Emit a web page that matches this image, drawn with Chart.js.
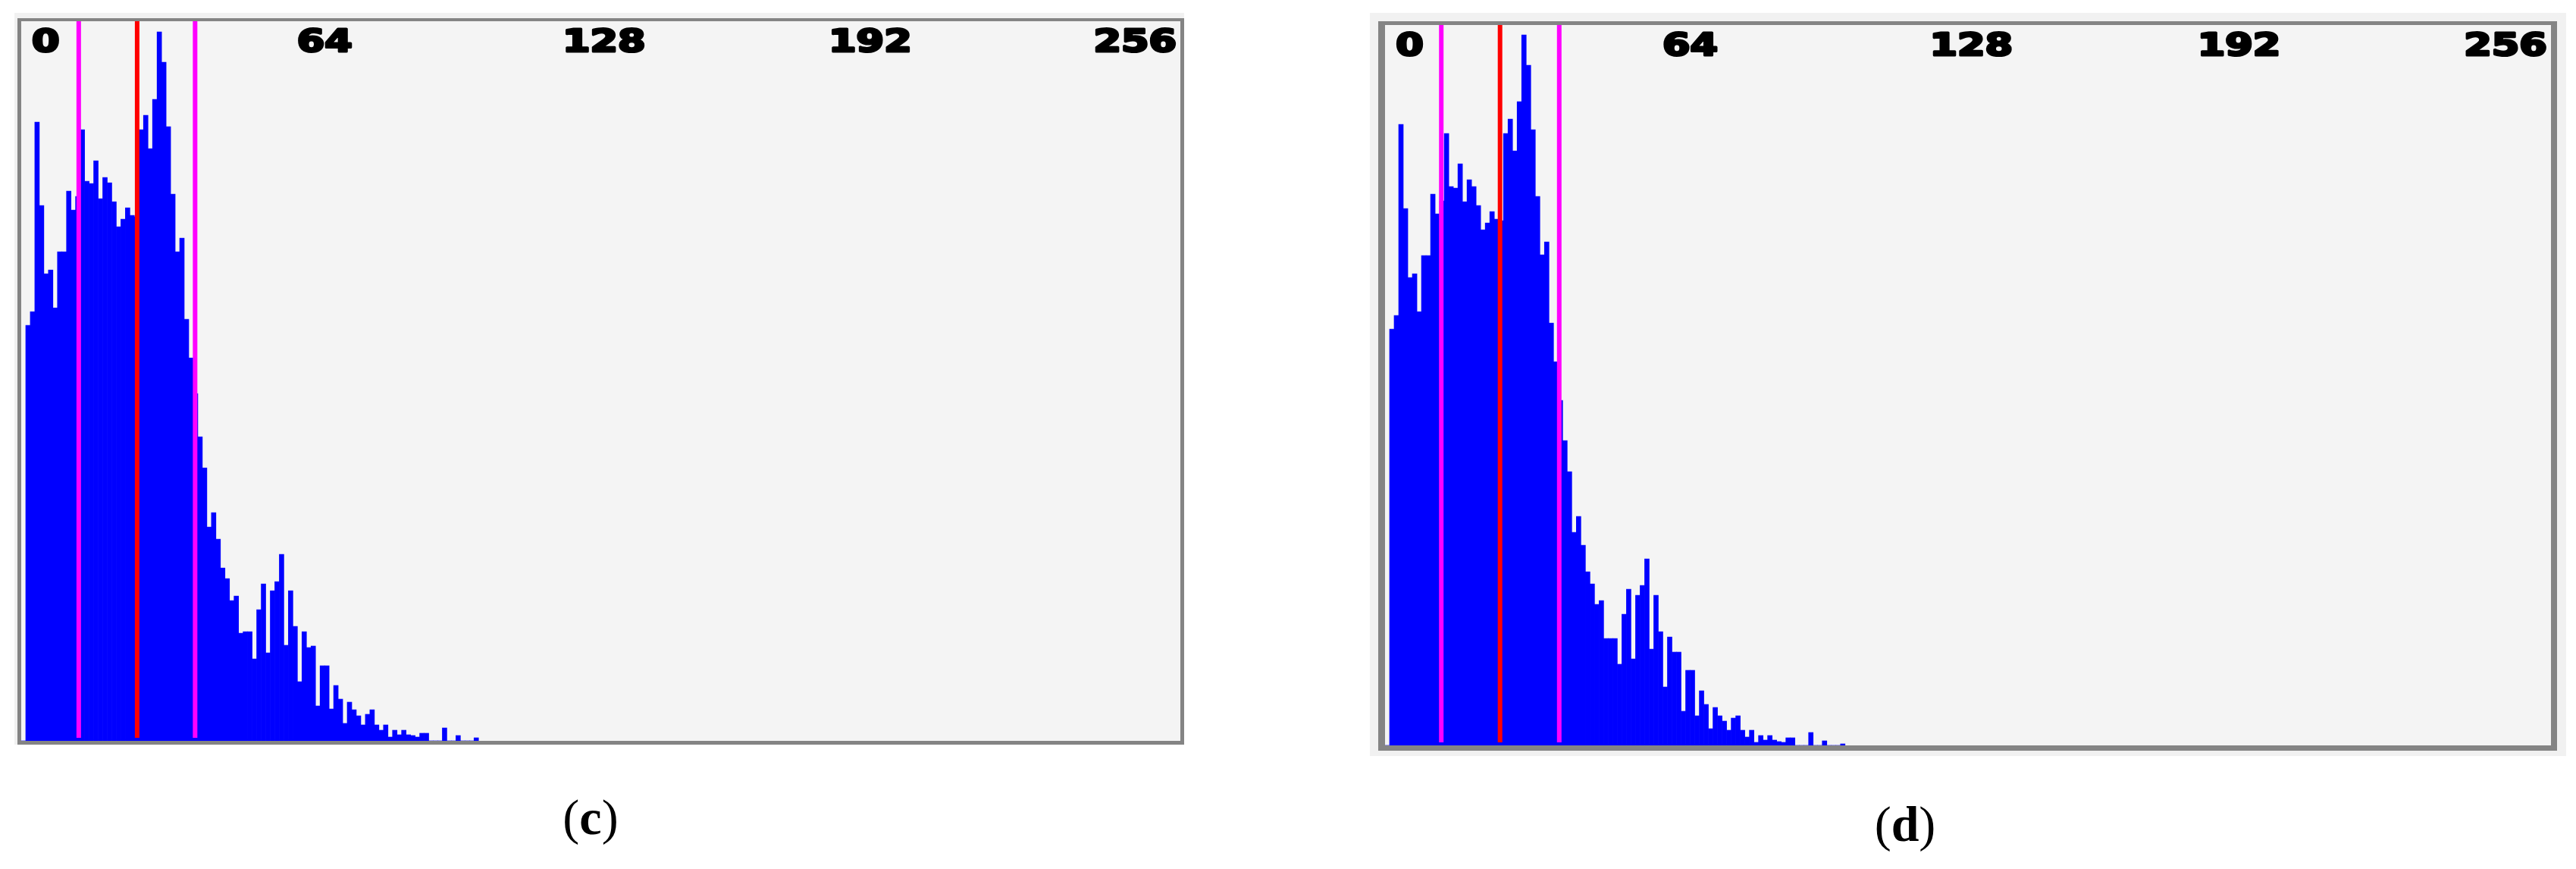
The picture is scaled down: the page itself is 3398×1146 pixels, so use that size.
<!doctype html>
<html lang="en">
<head>
<meta charset="utf-8">
<title>Grey-level histograms (c) and (d)</title>
<style>
  * { margin: 0; padding: 0; }
  body { width: 3398px; height: 1146px; background: #fff; position: relative; overflow: hidden; }
  .band { position: absolute; background: #f1f1f1; }
  .frame { position: absolute; border-style: solid; border-color: #848484; box-sizing: border-box; }
  .plot { position: absolute; background: #f4f4f4; }
  .caption {
    position: absolute;
    font-family: "Liberation Serif", serif;
    font-size: 66px;
    line-height: 66px;
    color: #000;
    transform: translateX(-50%);
    white-space: nowrap;
  }
</style>
</head>
<body>
  <!-- panel (c) -->
  <div class="band" style="left:19px;top:17px;width:1543px;height:965px"></div>
  <div class="frame" style="left:23px;top:24px;width:1539px;height:958px;border-width:4px 5px 5px 5px"></div>
  <div class="plot" style="left:28px;top:28px;width:1529px;height:949px"><canvas id="histC"></canvas></div>
  <div class="caption" style="left:779px;top:1045px">(<b>c</b>)</div>

  <!-- panel (d) -->
  <div class="band" style="left:1807px;top:17px;width:1578px;height:980px"></div>
  <div class="frame" style="left:1818px;top:28px;width:1555px;height:962px;border-width:5px 8px 7px 9px"></div>
  <div class="plot" style="left:1827px;top:33px;width:1538px;height:950px"><canvas id="histD"></canvas></div>
  <div class="caption" style="left:2513px;top:1054px">(<b>d</b>)</div>

<script src="https://cdn.jsdelivr.net/npm/chart.js"></script>
<script>
// grey-level bins 0..100, everything above is empty
const binsC = [
  0, 548, 566, 816, 706, 616, 621, 571, 645, 645,
  725, 700, 718, 806, 738, 735, 765, 715, 743, 736,
  711, 678, 688, 703, 693, 691, 806, 825, 781, 846,
  935, 895, 810, 721, 645, 663, 556, 505, 458, 401,
  360, 282, 301, 266, 228, 214, 185, 191, 142, 144,
  144, 108, 173, 207, 116, 198, 210, 246, 126, 198,
  151, 78, 144, 123, 125, 46, 99, 99, 42, 73,
  55, 23, 51, 41, 33, 21, 35, 41, 21, 14,
  21, 5, 14, 8, 14, 8, 7, 5, 10, 10,
  0, 0, 0, 17, 0, 0, 7, 0, 0, 0,
  4
];
const binsD = [
  0, 549, 567, 819, 708, 617, 622, 572, 646, 646,
  727, 701, 718, 807, 737, 735, 767, 717, 746, 737,
  712, 680, 689, 704, 694, 692, 807, 826, 784, 849,
  937, 897, 812, 724, 647, 664, 557, 506, 455, 402,
  361, 281, 302, 264, 229, 213, 186, 191, 141, 141,
  141, 107, 173, 206, 114, 198, 211, 246, 127, 198,
  150, 77, 143, 123, 123, 45, 99, 99, 39, 72,
  54, 22, 50, 39, 32, 20, 36, 39, 20, 11,
  20, 4, 13, 7, 13, 7, 5, 4, 10, 10,
  0, 0, 0, 17, 0, 0, 6, 0, 0, 0,
  2
];
const tickValues = [0, 64, 128, 192, 256];
// where the viewer actually prints each number (pulled inward at the ends)
const tickAnchor = [5.4, 67, 128.7, 187.5, 246];
// lower limit, mean, upper limit
const markersC = [12.7, 25.6, 38.4];
const markersD = [12.35, 25.25, 38.25];
const markerColors = ['#ff00ff', '#ff0000', '#ff00ff'];

// axis numbers sit inside the plot, along the top
const topTicks = {
  id: 'topTicks',
  afterDraw(chart) {
    const { ctx, chartArea } = chart;
    const x = chart.scales.x;
    ctx.save();
    ctx.font = 'bold 41px "DejaVu Sans"';
    ctx.fillStyle = '#000';
    ctx.strokeStyle = '#000';
    ctx.lineWidth = 3;
    ctx.lineJoin = 'round';
    ctx.textAlign = 'center';
    ctx.textBaseline = 'alphabetic';
    tickValues.forEach((t, k) => {
      const px = x.getPixelForValue(tickAnchor[k]);
      ctx.save();
      ctx.translate(px, chartArea.top + 40);
      ctx.scale(1.28, 1);
      ctx.strokeText(String(t), 0, 0);
      ctx.fillText(String(t), 0, 0);
      ctx.restore();
    });
    ctx.restore();
  }
};

function makeHist(id, bins, yMax, markers) {
  const bars = bins.map((v, i) => ({ x: i + 0.5, y: v }));
  const lines = markers.map((m, k) => ({
    type: 'line',
    data: [{ x: m, y: 4 }, { x: m, y: yMax }],
    borderColor: markerColors[k],
    borderWidth: 6,
    pointRadius: 0,
    order: 1
  }));
  return new Chart(document.getElementById(id), {
    type: 'bar',
    data: {
      datasets: [{
        data: bars,
        backgroundColor: '#0000ff',
        borderWidth: 0,
        barPercentage: 1,
        categoryPercentage: 1,
        order: 2
      }, ...lines]
    },
    options: {
      responsive: true,
      maintainAspectRatio: false,
      animation: false,
      events: [],
      layout: { padding: 0 },
      plugins: { legend: { display: false }, tooltip: { enabled: false } },
      scales: {
        x: { type: 'linear', min: 0, max: 256, offset: false, display: false },
        y: { min: 0, max: yMax, display: false }
      }
    },
    plugins: [topTicks]
  });
}

makeHist('histC', binsC, 949, markersC);
makeHist('histD', binsD, 950, markersD);
</script>
</body>
</html>
